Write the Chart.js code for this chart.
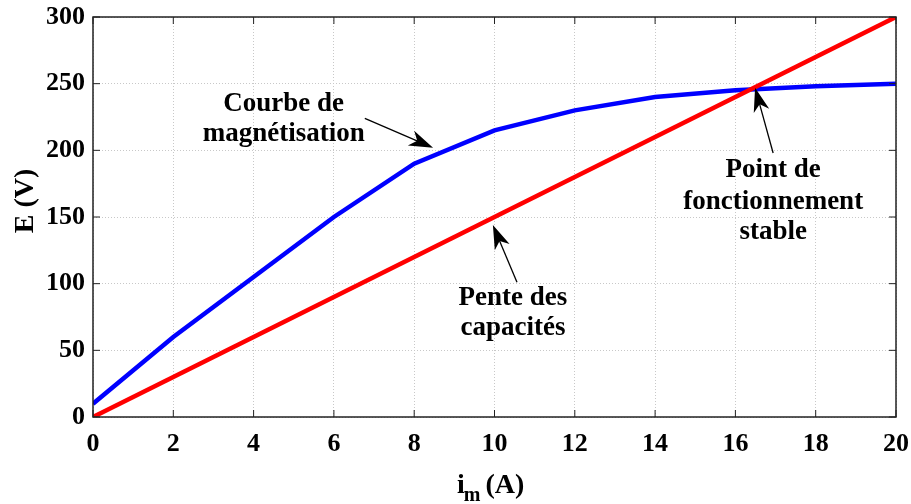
<!DOCTYPE html>
<html>
<head>
<meta charset="utf-8">
<script src="https://cdn.jsdelivr.net/npm/chart.js@4"></script>
<style>
  html, body { margin: 0; padding: 0; background: #fff; }
  #wrap { width: 911px; height: 504px; }
</style>
</head>
<body>
<div id="wrap"><canvas id="graphCanvas" width="911" height="504"></canvas></div>
<script>
// Courant magnétisant (A) et tension (V)
const current = [0, 2, 4, 6, 8, 10, 12, 14, 16, 18, 20];
const emf = [10, 60, 105, 150, 190, 215, 230, 240, 245, 248, 250];
// Droite des capacités
const capX = [0, 20];
const capY = [0, 300];
const xTicks = [0, 2, 4, 6, 8, 10, 12, 14, 16, 18, 20];
const yTicks = [0, 50, 100, 150, 200, 250, 300];

// Annotations : texte (lignes), position du texte, flèche (départ -> pointe) en coordonnées des données
const notes = [
  { lines: ['Courbe de', 'magnétisation'], x: 4.75, y: [235, 212], from: [6.77, 224], to: [8.47, 202] },
  { lines: ['Pente des', 'capacités'], x: 10.46, y: [89, 67], from: [10.56, 101], to: [9.96, 144] },
  { lines: ['Point de', 'fonctionnement', 'stable'], x: 16.94, y: [185, 161, 139], from: [16.94, 198], to: [16.49, 247] }
];

const FONT = '"Liberation Serif", "Times New Roman", serif';

function drawArrow(ctx, x1, y1, x2, y2) {
  const ang = Math.atan2(y2 - y1, x2 - x1);
  const len = 24, half = 8;
  ctx.save();
  ctx.strokeStyle = '#000';
  ctx.fillStyle = '#000';
  ctx.lineWidth = 1.3;
  ctx.beginPath();
  ctx.moveTo(x1, y1);
  ctx.lineTo(x2 - Math.cos(ang) * len * 0.7, y2 - Math.sin(ang) * len * 0.7);
  ctx.stroke();
  ctx.translate(x2, y2);
  ctx.rotate(ang);
  ctx.beginPath();
  ctx.moveTo(0, 0);
  ctx.lineTo(-len, -half);
  ctx.lineTo(-len * 0.72, 0);
  ctx.lineTo(-len, half);
  ctx.closePath();
  ctx.fill();
  ctx.restore();
}

const decor = {
  id: 'decor',
  afterDraw(chart) {
    const ctx = chart.ctx;
    const a = chart.chartArea;
    const xs = chart.scales.x, ys = chart.scales.y;
    ctx.save();
    // cadre
    ctx.strokeStyle = '#222';
    ctx.lineWidth = 1.5;
    ctx.strokeRect(a.left, a.top, a.right - a.left, a.bottom - a.top);
    // graduations intérieures
    ctx.lineWidth = 1;
    xTicks.forEach(v => {
      const p = xs.getPixelForValue(v);
      ctx.beginPath();
      ctx.moveTo(p, a.bottom); ctx.lineTo(p, a.bottom - 7);
      ctx.moveTo(p, a.top); ctx.lineTo(p, a.top + 7);
      ctx.stroke();
    });
    yTicks.forEach(v => {
      const p = ys.getPixelForValue(v);
      ctx.beginPath();
      ctx.moveTo(a.left, p); ctx.lineTo(a.left + 7, p);
      ctx.moveTo(a.right, p); ctx.lineTo(a.right - 7, p);
      ctx.stroke();
    });
    // titres des axes
    ctx.fillStyle = '#000';
    ctx.textBaseline = 'alphabetic';
    ctx.textAlign = 'left';
    const big = 'bold 28px ' + FONT, small = 'bold 20px ' + FONT;
    ctx.font = big;
    const wi = ctx.measureText('i').width;
    ctx.font = small;
    const wm = ctx.measureText('m').width;
    const sx = 457, by = 493;
    ctx.font = big;
    ctx.fillText('i', sx, by);
    ctx.font = small;
    ctx.fillText('m', sx + wi - 1, by + 8);
    ctx.font = big;
    ctx.fillText(' (A)', sx + wi + wm - 3, by);
    ctx.save();
    ctx.translate(33, 201);
    ctx.rotate(-Math.PI / 2);
    ctx.textAlign = 'center';
    ctx.fillText('E (V)', 0, 0);
    ctx.restore();
    // annotations
    ctx.font = 'bold 27px ' + FONT;
    ctx.textAlign = 'center';
    ctx.textBaseline = 'middle';
    notes.forEach(n => {
      const px = xs.getPixelForValue(n.x);
      n.lines.forEach((t, i) => ctx.fillText(t, px, ys.getPixelForValue(n.y[i])));
      drawArrow(ctx,
        xs.getPixelForValue(n.from[0]), ys.getPixelForValue(n.from[1]),
        xs.getPixelForValue(n.to[0]), ys.getPixelForValue(n.to[1]));
    });
    ctx.restore();
  }
};

const ctx = document.getElementById('graphCanvas').getContext('2d');
const chart = new Chart(ctx, {
  type: 'line',
  data: {
    datasets: [{
      label: 'Pente des capacités',
      data: capX.map((x, i) => ({ x: x, y: capY[i] })),
      borderColor: '#ff0000',
      borderWidth: 4.5,
      pointRadius: 0,
      fill: false,
      tension: 0
    }, {
      label: 'Courbe de magnétisation',
      data: current.map((x, i) => ({ x: x, y: emf[i] })),
      borderColor: '#0000ff',
      borderWidth: 4.5,
      pointRadius: 0,
      fill: false,
      tension: 0
    }]
  },
  options: {
    responsive: false,
    animation: false,
    layout: { padding: { top: 17, right: 15, left: 0, bottom: 0 } },
    plugins: { legend: { display: false }, tooltip: { enabled: false } },
    scales: {
      x: {
        type: 'linear',
        min: 0, max: 20,
        afterFit: s => { s.height = 87; s.paddingLeft = 0; s.paddingRight = 0; },
        afterBuildTicks: s => { s.ticks = xTicks.map(v => ({ value: v })); },
        grid: { color: '#c8c8c8', lineWidth: 1, drawTicks: false },
        border: { display: false, dash: [1, 2] },
        ticks: { color: '#000', padding: 12, maxRotation: 0, font: { family: FONT, size: 26, weight: 'bold' } }
      },
      y: {
        min: 0, max: 300,
        afterFit: s => { s.width = 93; s.paddingTop = 0; s.paddingBottom = 0; },
        afterBuildTicks: s => { s.ticks = yTicks.map(v => ({ value: v })); },
        grid: { color: '#c8c8c8', lineWidth: 1, drawTicks: false },
        border: { display: false, dash: [1, 2] },
        ticks: { color: '#000', padding: 8, font: { family: FONT, size: 26, weight: 'bold' } }
      }
    }
  },
  plugins: [decor]
});
</script>
</body>
</html>
